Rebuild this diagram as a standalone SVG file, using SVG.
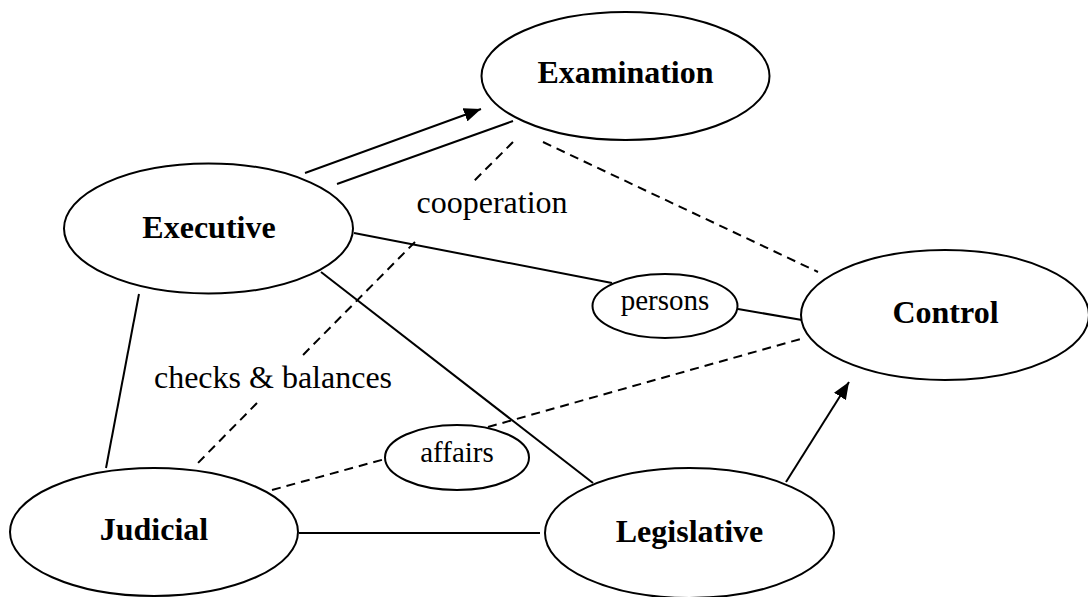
<svg xmlns="http://www.w3.org/2000/svg" width="1088" height="597" viewBox="0 0 1088 597">
<style>
.node{fill:#fff;stroke:#000;stroke-width:2}
.big{font-family:"Liberation Serif","Times New Roman",serif;font-size:32px;font-weight:bold;text-anchor:middle;fill:#000}
.lbl{font-family:"Liberation Serif","Times New Roman",serif;font-size:32px;text-anchor:middle;fill:#000}
.sm{font-family:"Liberation Serif","Times New Roman",serif;font-size:29px;text-anchor:middle;fill:#000}
.ln{stroke:#000;stroke-width:2;fill:none}
.dash{stroke:#000;stroke-width:2;fill:none;stroke-dasharray:9 6}
</style>
<defs>
<marker id="arr" markerUnits="userSpaceOnUse" markerWidth="17" markerHeight="14" refX="17" refY="7" orient="auto">
<path d="M0,0 L17,7 L0,14 z" fill="#000"/>
</marker>
</defs>
<rect width="1088" height="597" fill="#fff"/>
<g id="connectors">
<line class="ln" x1="305" y1="173" x2="481" y2="109" marker-end="url(#arr)"/>
<line class="ln" x1="337" y1="184" x2="513" y2="121"/>
<line class="dash" x1="513" y1="142" x2="471" y2="184"/>
<line class="dash" x1="415" y1="242" x2="303" y2="355"/>
<line class="dash" x1="257" y1="403" x2="194" y2="467"/>
<line class="dash" x1="543" y1="142" x2="818" y2="272"/>
<line class="ln" x1="354" y1="233" x2="612" y2="283"/>
<line class="ln" x1="738" y1="309" x2="802" y2="320"/>
<line class="ln" x1="321" y1="272" x2="593" y2="483"/>
<line class="ln" x1="139" y1="294" x2="106" y2="468"/>
<line class="ln" x1="299" y1="533" x2="540" y2="533"/>
<line class="dash" x1="272" y1="490" x2="385" y2="459"/>
<line class="dash" x1="488" y1="427" x2="804" y2="338"/>
<line class="ln" x1="786" y1="482" x2="849" y2="382" marker-end="url(#arr)"/>
<text class="lbl" x="492" y="213">cooperation</text>
<text class="lbl" x="273" y="388">checks &amp; balances</text>
</g>
<g id="examination">
<ellipse class="node" cx="625.5" cy="76" rx="144" ry="64"/>
<text class="big" x="625.5" y="83">Examination</text>
</g>
<g id="executive">
<ellipse class="node" cx="208.5" cy="228.5" rx="144.5" ry="65"/>
<text class="big" x="209" y="238">Executive</text>
</g>
<g id="control">
<ellipse class="node" cx="945" cy="315" rx="144" ry="65"/>
<text class="big" x="945.5" y="323">Control</text>
</g>
<g id="persons">
<ellipse class="node" cx="665" cy="306" rx="72.5" ry="32"/>
<text class="sm" x="665" y="310">persons</text>
</g>
<g id="affairs">
<ellipse class="node" cx="457" cy="457.5" rx="72" ry="32.5"/>
<text class="sm" x="457" y="462">affairs</text>
</g>
<g id="judicial">
<ellipse class="node" cx="154" cy="532" rx="144" ry="64"/>
<text class="big" x="154" y="540">Judicial</text>
</g>
<g id="legislative">
<ellipse class="node" cx="689.5" cy="533" rx="144.5" ry="65"/>
<text class="big" x="689.5" y="542">Legislative</text>
</g>
</svg>
